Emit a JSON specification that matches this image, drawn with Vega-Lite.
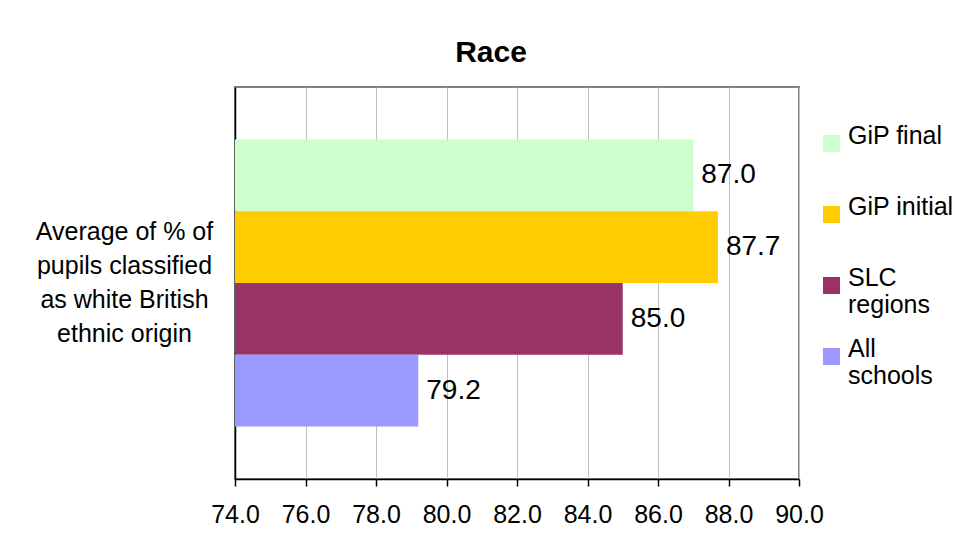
{
  "$schema": "https://vega.github.io/schema/vega-lite/v6.json",
  "autosize": "none",
  "width": 564,
  "height": 392,
  "padding": {"left": 235, "top": 87, "right": 156, "bottom": 76},
  "background": "white",
  "config": {
    "font": "Liberation Sans",
    "view": {"stroke": "#808080", "strokeWidth": 2}
  },
  "title": {
    "text": "Race",
    "fontSize": 30,
    "fontWeight": "bold",
    "color": "black",
    "anchor": "middle",
    "frame": "group",
    "dx": -26,
    "baseline": "alphabetic",
    "offset": -5
  },
  "data": {
    "values": [
      {"category": "Average of % of pupils classified as white British ethnic origin", "series": "GiP final", "value": 87.0},
      {"category": "Average of % of pupils classified as white British ethnic origin", "series": "GiP initial", "value": 87.7},
      {"category": "Average of % of pupils classified as white British ethnic origin", "series": "SLC regions", "value": 85.0},
      {"category": "Average of % of pupils classified as white British ethnic origin", "series": "All schools", "value": 79.2}
    ]
  },
  "encoding": {
    "y": {
      "field": "category",
      "type": "nominal",
      "scale": {"paddingInner": 0, "paddingOuter": 0},
      "axis": {
        "title": null,
        "domainColor": "black",
        "domainWidth": 1.5,
        "ticks": false,
        "labelExpr": "['Average of % of', 'pupils classified', 'as white British', 'ethnic origin']",
        "labelAlign": "center",
        "labelBaseline": "middle",
        "labelOffset": -51,
        "labelPadding": 111,
        "labelFontSize": 25,
        "labelLineHeight": 34,
        "labelColor": "black",
        "labelLimit": 0
      }
    },
    "yOffset": {
      "field": "series",
      "type": "nominal",
      "sort": ["GiP final", "GiP initial", "SLC regions", "All schools"],
      "scale": {"paddingInner": 0, "paddingOuter": 0.733}
    },
    "x": {
      "field": "value",
      "type": "quantitative",
      "scale": {"domain": [74, 90], "nice": false, "zero": false},
      "axis": {
        "title": null,
        "values": [74, 76, 78, 80, 82, 84, 86, 88, 90],
        "format": ".1f",
        "domainColor": "black",
        "domainWidth": 1.5,
        "tickColor": "black",
        "tickSize": 7,
        "tickWidth": 1.5,
        "gridColor": "#c0c0c0",
        "gridWidth": 1,
        "labelFontSize": 25,
        "labelColor": "black",
        "labelPadding": 16,
        "labelFlush": false
      }
    }
  },
  "layer": [
    {
      "mark": {"type": "bar"},
      "encoding": {
        "x2": {"datum": 74},
        "color": {
          "field": "series",
          "type": "nominal",
          "sort": ["GiP final", "GiP initial", "SLC regions", "All schools"],
          "scale": {
            "domain": ["GiP final", "GiP initial", "SLC regions", "All schools"],
            "range": ["#CCFFCC", "#FFCC00", "#993366", "#9999FF"]
          },
          "legend": {
            "title": null,
            "orient": "none",
            "legendX": 584,
            "legendY": 44,
            "padding": 0,
            "symbolType": "square",
            "symbolSize": 289,
            "symbolStrokeWidth": 0,
            "symbolOpacity": 1,
            "labelFontSize": 25,
            "labelColor": "black",
            "labelOffset": 4,
            "labelLimit": 0,
            "labelBaseline": "alphabetic",
            "labelLineHeight": 31,
            "labelExpr": "datum.label == 'SLC regions' ? ['SLC', 'regions'] : datum.label == 'All schools' ? ['All', 'schools'] : [datum.label, '']",
            "rowPadding": 18
          }
        }
      }
    },
    {
      "mark": {"type": "text", "align": "left", "baseline": "middle", "dx": 8, "fontSize": 28, "color": "black"},
      "encoding": {
        "text": {"field": "value", "type": "quantitative", "format": ".1f"}
      }
    }
  ]
}
